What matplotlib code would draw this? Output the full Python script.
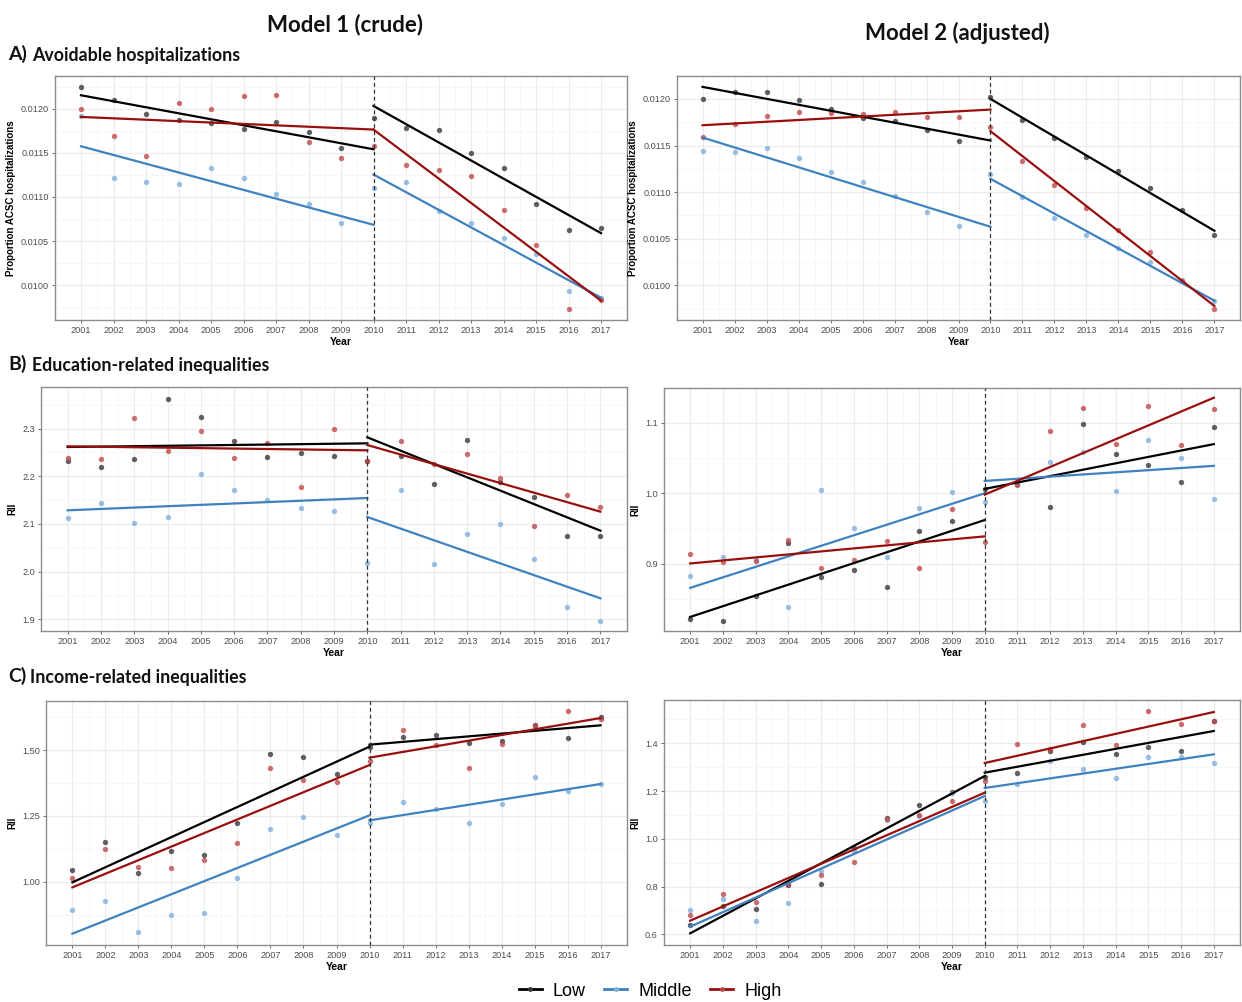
#!/usr/bin/env python3
"""Segmented regression panels: avoidable hospitalizations and inequality indices."""

import numpy as np
import matplotlib
matplotlib.use("Agg")
import matplotlib.pyplot as plt
from matplotlib.lines import Line2D
from matplotlib.ticker import FixedLocator

W, H = 1242, 1002

YEARS = list(range(2001, 2018))
BREAK_YEAR = 2010
GROUPS = ["Low", "Middle", "High"]

# ---- A) Avoidable hospitalizations, model 1 (crude)
A1_LOW = [0.012245, 0.012102, 0.011936, 0.011868, 0.011838, 0.011770, 0.011846, 0.011733, 0.011556,
          0.011895, 0.011782, 0.011755, 0.011503, 0.011330, 0.010926, 0.010622, 0.010648]
A1_MID = [0.011913, 0.011217, 0.011168, 0.011149, 0.011326, 0.011213, 0.011032, 0.010923, 0.010700,
          0.011096, 0.011175, 0.010844, 0.010708, 0.010539, 0.010350, 0.009940, 0.009860]
A1_HIGH = [0.011992, 0.011691, 0.011469, 0.012060, 0.011992, 0.012143, 0.012151, 0.011623, 0.011443,
           0.011578, 0.011367, 0.011303, 0.011232, 0.010855, 0.010452, 0.009729, 0.009830]
# fitted values: [start seg1, end seg1, start seg2, end seg2]
A1_FIT_LOW = [0.012151, 0.011540, 0.012030, 0.010591]
A1_FIT_MID = [0.011574, 0.010685, 0.011254, 0.009860]
A1_FIT_HIGH = [0.011906, 0.011763, 0.011763, 0.009827]

# ---- A) model 2 (adjusted)
A2_LOW = [0.012000, 0.012079, 0.012079, 0.011989, 0.011896, 0.011800, 0.011764, 0.011664, 0.011546,
          0.012021, 0.011775, 0.011586, 0.011375, 0.011225, 0.011050, 0.010807, 0.010539]
A2_MID = [0.011439, 0.011429, 0.011475, 0.011364, 0.011214, 0.011104, 0.010964, 0.010789, 0.010632,
          0.011193, 0.010943, 0.010725, 0.010536, 0.010396, 0.010250, 0.010054, 0.009836]
A2_HIGH = [0.011593, 0.011736, 0.011818, 0.011861, 0.011846, 0.011836, 0.011861, 0.011804, 0.011804,
           0.011696, 0.011339, 0.011082, 0.010825, 0.010593, 0.010357, 0.010050, 0.009746]
A2_FIT_LOW = [0.012129, 0.011554, 0.012000, 0.010586]
A2_FIT_MID = [0.011586, 0.010629, 0.011143, 0.009836]
A2_FIT_HIGH = [0.011718, 0.011886, 0.011654, 0.009779]

# ---- B) Education-related inequalities (RII)
B1_LOW = [2.2322, 2.2189, 2.2364, 2.3629, 2.3252, 2.2748, 2.2406, 2.2483, 2.2434,
          2.2330, 2.2420, 2.1846, 2.2755, 2.1888, 2.1566, 2.0755, 2.0755]
B1_MID = [2.1126, 2.1448, 2.1021, 2.1154, 2.2056, 2.1706, 2.1497, 2.1329, 2.1273,
          2.0189, 2.1713, 2.0161, 2.0790, 2.1000, 2.0273, 1.9252, 1.8965]
B1_HIGH = [2.2392, 2.2364, 2.3217, 2.2531, 2.2958, 2.2392, 2.2706, 2.1776, 2.2993,
           2.2315, 2.2741, 2.2252, 2.2469, 2.1972, 2.0958, 2.1615, 2.1357]
B1_FIT_LOW = [2.2615, 2.2692, 2.2818, 2.0860]
B1_FIT_MID = [2.1287, 2.1545, 2.1147, 1.9441]
B1_FIT_HIGH = [2.2629, 2.2545, 2.2657, 2.1259]

B2_LOW = [0.8218, 0.8194, 0.8550, 0.9294, 0.8810, 0.8910, 0.8678, 0.9460, 0.9607,
          1.0060, 1.0128, 0.9810, 1.0976, 1.0550, 1.0408, 1.0161, 1.0943]
B2_MID = [0.8825, 0.9090, 0.9050, 0.8393, 1.0052, 0.9502, 0.9095, 0.9791, 1.0024,
          0.9876, 1.0133, 1.0441, 1.0580, 1.0028, 1.0758, 1.0507, 0.9924]
B2_HIGH = [0.9142, 0.9028, 0.9043, 0.9341, 0.8938, 0.9047, 0.9318, 0.8943, 0.9777,
           0.9310, 1.0114, 1.0877, 1.1204, 1.0692, 1.1242, 1.0682, 1.1190]
B2_FIT_LOW = [0.8246, 0.9621, 1.0062, 1.0697]
B2_FIT_MID = [0.8659, 1.0000, 1.0175, 1.0389]
B2_FIT_HIGH = [0.9005, 0.9389, 0.9981, 1.1355]

# ---- C) Income-related inequalities (RII)
C1_LOW = [1.0457, 1.1497, 1.0330, 1.1168, 1.1028, 1.2246, 1.4848, 1.4759, 1.4099,
          1.5137, 1.5520, 1.5596, 1.5292, 1.5368, 1.5977, 1.5482, 1.6256]
C1_MID = [0.8921, 0.9277, 0.8084, 0.8744, 0.8807, 1.0140, 1.1992, 1.2449, 1.1764,
          1.2246, 1.3033, 1.2766, 1.2221, 1.2970, 1.3972, 1.3452, 1.3731]
C1_HIGH = [1.0140, 1.1256, 1.0546, 1.0508, 1.0838, 1.1472, 1.4327, 1.3858, 1.3794,
           1.4590, 1.5774, 1.5190, 1.4315, 1.5241, 1.5914, 1.6485, 1.6206]
C1_FIT_LOW = [0.9975, 1.5140, 1.5216, 1.5952]
C1_FIT_MID = [0.8020, 1.2525, 1.2335, 1.3718]
C1_FIT_HIGH = [0.9784, 1.4440, 1.4721, 1.6230]

C2_LOW = [0.6391, 0.7180, 0.7075, 0.8084, 0.8126, 0.9600, 1.0873, 1.1417, 1.1972,
          1.2572, 1.2743, 1.3679, 1.4070, 1.3553, 1.3846, 1.3665, 1.4922]
C2_MID = [0.7005, 0.7480, 0.6572, 0.7326, 0.8667, 0.9500, 1.0800, 1.0977, 1.1900,
          1.1567, 1.2307, 1.3271, 1.2922, 1.2545, 1.3425, 1.3425, 1.3159]
C2_HIGH = [0.6810, 0.7675, 0.7354, 0.8122, 0.8471, 0.9029, 1.0831, 1.1000, 1.1581,
           1.2433, 1.3958, 1.3777, 1.4754, 1.3916, 1.5354, 1.4824, 1.4922]
C2_FIT_LOW = [0.6042, 1.2632, 1.2771, 1.4517]
C2_FIT_MID = [0.6321, 1.1794, 1.2129, 1.3539]
C2_FIT_HIGH = [0.6572, 1.1933, 1.3176, 1.5312]

LINE_COLORS = {"Low": "#000000", "Middle": "#3f82bf", "High": "#990f0f"}
POINT_COLORS = {"Low": "#3a3a3a", "Middle": "#7fb0dc", "High": "#c04a4a"}
GRID_MAJOR = "#ebebeb"
GRID_MINOR = "#f4f4f4"
TICK_COLOR = "#4d4d4d"
BORDER = "#8c8c8c"


def px_axes(fig, left, top, right, bottom):
    return fig.add_axes([left / W, 1 - bottom / H, (right - left) / W, (bottom - top) / H])


def draw_panel(ax, series, fits, ylim, yticks, yfmt, ylabel):
    for g, vals in zip(GROUPS, series):
        ax.scatter(YEARS, vals, s=15, color=POINT_COLORS[g], alpha=0.8, linewidths=0, zorder=3)
    for g, fit in zip(GROUPS, fits):
        ax.plot([YEARS[0], BREAK_YEAR], fit[:2], color=LINE_COLORS[g], lw=1.6, zorder=4)
        ax.plot([BREAK_YEAR, YEARS[-1]], fit[2:], color=LINE_COLORS[g], lw=1.6, zorder=4)
    ax.axvline(BREAK_YEAR, color="#333333", lw=0.9, ls=(0, (3, 2.5)), zorder=5)

    ax.set_xlim(YEARS[0] - 0.8, YEARS[-1] + 0.8)
    ax.set_ylim(*ylim)
    ax.xaxis.set_major_locator(FixedLocator(YEARS))
    ax.xaxis.set_minor_locator(FixedLocator([y + 0.5 for y in YEARS[:-1]]))
    ax.set_xticklabels([str(y) for y in YEARS])
    step = yticks[1] - yticks[0]
    ax.yaxis.set_major_locator(FixedLocator(yticks))
    ax.yaxis.set_minor_locator(FixedLocator(list(np.arange(yticks[0] - step / 2, ylim[1], step))))
    ax.set_yticklabels([yfmt.format(v) for v in yticks])

    ax.grid(which="major", color=GRID_MAJOR, lw=0.8, zorder=0)
    ax.grid(which="minor", color=GRID_MINOR, lw=0.5, zorder=0)
    ax.set_axisbelow(True)
    ax.tick_params(which="major", length=2.5, width=0.6, color="#555555", labelsize=6.6,
                   labelcolor=TICK_COLOR, pad=2)
    ax.tick_params(which="minor", length=0)
    for sp in ax.spines.values():
        sp.set_color(BORDER)
        sp.set_linewidth(1.0)
    ax.set_xlabel("Year", fontsize=7.5, fontweight="bold", labelpad=1)
    ax.set_ylabel(ylabel, fontsize=7, fontweight="bold", labelpad=3)


def main():
    plt.rcParams["font.family"] = ["Liberation Sans", "DejaVu Sans"]
    fig = plt.figure(figsize=(W / 100, H / 100), dpi=100)
    fig.patch.set_facecolor("white")

    acsc = "Proportion ACSC hospitalizations"
    ax = px_axes(fig, 55, 76, 627, 320)
    draw_panel(ax, [A1_LOW, A1_MID, A1_HIGH], [A1_FIT_LOW, A1_FIT_MID, A1_FIT_HIGH],
               (0.009608, 0.012369), [0.0100, 0.0105, 0.0110, 0.0115, 0.0120], "{:.4f}", acsc)
    ax = px_axes(fig, 677, 76, 1240, 320)
    draw_panel(ax, [A2_LOW, A2_MID, A2_HIGH], [A2_FIT_LOW, A2_FIT_MID, A2_FIT_HIGH],
               (0.009629, 0.012246), [0.0100, 0.0105, 0.0110, 0.0115, 0.0120], "{:.4f}", acsc)

    ax = px_axes(fig, 41, 387, 627, 631)
    draw_panel(ax, [B1_LOW, B1_MID, B1_HIGH], [B1_FIT_LOW, B1_FIT_MID, B1_FIT_HIGH],
               (1.8755, 2.3874), [1.9, 2.0, 2.1, 2.2, 2.3], "{:.1f}", "RII")
    ax = px_axes(fig, 664, 388, 1240, 631)
    draw_panel(ax, [B2_LOW, B2_MID, B2_HIGH], [B2_FIT_LOW, B2_FIT_MID, B2_FIT_HIGH],
               (0.8047, 1.1493), [0.9, 1.0, 1.1], "{:.1f}", "RII")

    ax = px_axes(fig, 46, 701, 627, 945)
    draw_panel(ax, [C1_LOW, C1_MID, C1_HIGH], [C1_FIT_LOW, C1_FIT_MID, C1_FIT_HIGH],
               (0.7589, 1.6878), [1.00, 1.25, 1.50], "{:.2f}", "RII")
    ax = px_axes(fig, 664, 700, 1240, 945)
    draw_panel(ax, [C2_LOW, C2_MID, C2_HIGH], [C2_FIT_LOW, C2_FIT_MID, C2_FIT_HIGH],
               (0.5553, 1.5815), [0.6, 0.8, 1.0, 1.2, 1.4], "{:.1f}", "RII")

    head = dict(fontfamily=["Lato", "DejaVu Sans"], fontweight="bold", color="#111111")
    fig.text(345 / W, 1 - 25 / H, "Model 1 (crude)", ha="center", va="center", fontsize=16, **head)
    fig.text(957 / W, 1 - 33 / H, "Model 2 (adjusted)", ha="center", va="center", fontsize=16, **head)
    fig.text(8 / W, 1 - 54 / H, "A)", ha="left", va="center", fontsize=14, **head)
    fig.text(32 / W, 1 - 55 / H, "Avoidable hospitalizations", ha="left", va="center", fontsize=12.8, **head)
    fig.text(8 / W, 1 - 364 / H, "B)", ha="left", va="center", fontsize=14, **head)
    fig.text(32 / W, 1 - 365 / H, "Education-related inequalities", ha="left", va="center", fontsize=12.8, **head)
    fig.text(8 / W, 1 - 676 / H, "C)", ha="left", va="center", fontsize=14, **head)
    fig.text(30 / W, 1 - 677 / H, "Income-related inequalities", ha="left", va="center", fontsize=12.8, **head)

    handles = [Line2D([0], [0], color=LINE_COLORS[g], lw=2, marker="o", markersize=3.5,
                      markerfacecolor=POINT_COLORS[g], markeredgewidth=0) for g in GROUPS]
    fig.legend(handles, GROUPS, loc="center", bbox_to_anchor=(650 / W, 1 - 991 / H), ncol=3,
               frameon=False, fontsize=13, handlelength=1.3, handletextpad=0.6, columnspacing=1.0,
               borderaxespad=0, borderpad=0)

    fig.savefig("out.png", dpi=100, facecolor="white")
    plt.close(fig)


if __name__ == "__main__":
    main()
